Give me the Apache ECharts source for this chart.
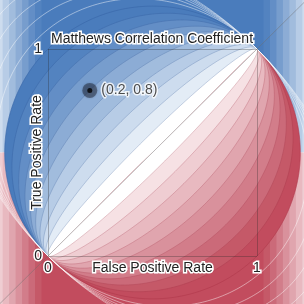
<!DOCTYPE html>
<html><head><meta charset="utf-8">
<script src="https://cdn.jsdelivr.net/npm/echarts@6/dist/echarts.min.js"></script>
<style>html,body{margin:0;padding:0;background:#fff}#c{width:304px;height:304px}</style>
</head><body><div id="c"></div>
<script>
// ---- data ----
const mccLevels = [0.1, 0.2, 0.3, 0.4, 0.5, 0.6, 0.7, 0.8, 0.9, 1.0];
const outerLevels = [1.1, 1.2, 1.3, 1.4, 1.5, 1.6];
const stripeBands = [9, 8, 7, 6, 5, 4, 3, 2];
const pointXY = [0.2, 0.8];
const pointLabel = '(0.2, 0.8)';
const axisMin = 0, axisMax = 1;
const titleText = 'Matthews Correlation Coefficient';
const xName = 'False Positive Rate';
const yName = 'True Positive Rate';

// ---- style ----
const blues = ['#ffffff','#e3ecf6','#cddcee','#b7cce6','#a1bcdd','#8cacd5','#779dcd','#638ec6','#5383c0','#4a7cbc'];
const reds  = ['#ffffff','#f6e1e4','#efcdd2','#e8b9c0','#e0a5ae','#d9919c','#d27d8a','#cb6a79','#c55968','#c24c5e'];
const G = {left: 48, top: 49, w: 209, h: 207, W: 304, H: 304};
const XMIN = -G.left / G.w, XMAX = (G.W - G.left) / G.w;
const YMAX = 1 + G.top / G.h, YMIN = -(G.H - G.top - G.h) / G.h;
const STRIPE = 0.031;
const FONT = 'Liberation Sans, Arial, sans-serif';
const txt = {color: '#222', fontSize: 14, fontFamily: FONT, textBorderColor: '#fff', textBorderWidth: 3};

function ellipsePts(api, c, s, n) {
  const pts = [];
  for (let i = 0; i <= n; i++) {
    const t = Math.PI * i / n;
    const u = 1 + Math.cos(t), v = s * c * Math.sin(t);
    pts.push(api.coord([(u - v) / 2, (u + v) / 2]));
  }
  return pts;
}

const stripeData = [];
[1, -1].forEach(s => { for (let j = stripeBands.length - 1; j >= 0; j--) stripeData.push([0.5 + (j + 1) * STRIPE, stripeBands[j], s]); });
const bandData = [];
[1, -1].forEach(s => { for (let k = mccLevels.length - 1; k >= 0; k--) bandData.push([mccLevels[k], k, s]); });
const outerData = [];
[1, -1].forEach(s => outerLevels.forEach(c => outerData.push([c, 0, s])));

const chart = echarts.init(document.getElementById('c'), null, {renderer: 'canvas'});
chart.setOption({
  animation: false,
  title: {text: titleText, left: 'center', top: 32, padding: 0, textStyle: Object.assign({}, txt, {fontWeight: 'normal'})},
  grid: [
    {left: 0, right: 0, top: 0, bottom: 0, show: false},
    {left: G.left, top: G.top, width: G.w, height: G.h, show: false}
  ],
  xAxis: [
    {gridIndex: 0, type: 'value', min: XMIN, max: XMAX, show: false},
    {gridIndex: 1, type: 'value', min: axisMin, max: axisMax, interval: 1, z: 10,
     axisLine: {show: false}, axisTick: {show: false},
     splitLine: {show: true, lineStyle: {color: 'rgba(40,40,40,0.3)', width: 1}},
     axisLabel: Object.assign({margin: 5}, txt),
     name: xName, nameLocation: 'middle', nameGap: 5, nameMoveOverlap: false, nameTextStyle: txt}
  ],
  yAxis: [
    {gridIndex: 0, type: 'value', min: YMIN, max: YMAX, show: false},
    {gridIndex: 1, type: 'value', min: axisMin, max: axisMax, interval: 1, z: 10,
     axisLine: {show: false}, axisTick: {show: false},
     splitLine: {show: true, lineStyle: {color: 'rgba(40,40,40,0.3)', width: 1}},
     axisLabel: Object.assign({margin: 6}, txt),
     name: yName, nameLocation: 'middle', nameGap: 4, nameMoveOverlap: false, nameTextStyle: txt}
  ],
  series: [
    {type: 'custom', xAxisIndex: 0, yAxisIndex: 0, z: 1, silent: true, data: stripeData,
     renderItem: (p, api) => {
       const hw = api.value(0), k = api.value(1), s = api.value(2);
       const a = api.coord([0.5 - hw, s > 0 ? YMAX + 1 : YMIN - 1]);
       const b = api.coord([0.5 + hw, 0.5]);
       return {type: 'rect', shape: {x: Math.min(a[0], b[0]), y: Math.min(a[1], b[1]), width: Math.abs(b[0] - a[0]), height: Math.abs(b[1] - a[1])},
               style: {fill: (s > 0 ? blues : reds)[k]}};
     }},
    {type: 'custom', xAxisIndex: 0, yAxisIndex: 0, z: 2, silent: true, data: bandData,
     renderItem: (p, api) => {
       const c = api.value(0), k = api.value(1), s = api.value(2);
       const pts = ellipsePts(api, c, s, 180);
       const col = (s > 0 ? blues : reds)[k];
       return {type: 'group', children: [
         {type: 'polygon', shape: {points: pts}, style: {fill: col, stroke: col, lineWidth: 0.5}},
         {type: 'polyline', shape: {points: pts}, style: {fill: null, stroke: s > 0 ? 'rgba(30,70,140,0.25)' : 'rgba(150,30,50,0.25)', lineWidth: 1}}
       ]};
     }},
    {type: 'custom', xAxisIndex: 0, yAxisIndex: 0, z: 3, silent: true, data: outerData,
     renderItem: (p, api) => {
       const c = api.value(0), s = api.value(2);
       return {type: 'polyline', shape: {points: ellipsePts(api, c, s, 180)}, style: {fill: null, stroke: 'rgba(255,255,255,0.45)', lineWidth: 1}};
     }},
    {type: 'line', xAxisIndex: 0, yAxisIndex: 0, z: 4, silent: true, symbol: 'none',
     data: [[XMIN - 1, XMIN - 1], [XMAX + 1, XMAX + 1]],
     lineStyle: {color: 'rgba(110,110,110,0.45)', width: 1}},
    {type: 'scatter', xAxisIndex: 1, yAxisIndex: 1, z: 20, data: [pointXY], symbolSize: 15,
     itemStyle: {color: 'rgba(25,30,45,0.55)', shadowBlur: 2, shadowColor: 'rgba(25,30,45,0.5)'},
     label: Object.assign({show: true, position: 'right', distance: 4, formatter: pointLabel}, txt)},
    {type: 'scatter', xAxisIndex: 1, yAxisIndex: 1, z: 21, data: [pointXY], symbolSize: 5, itemStyle: {color: '#000'}}
  ]
});
</script></body></html>
